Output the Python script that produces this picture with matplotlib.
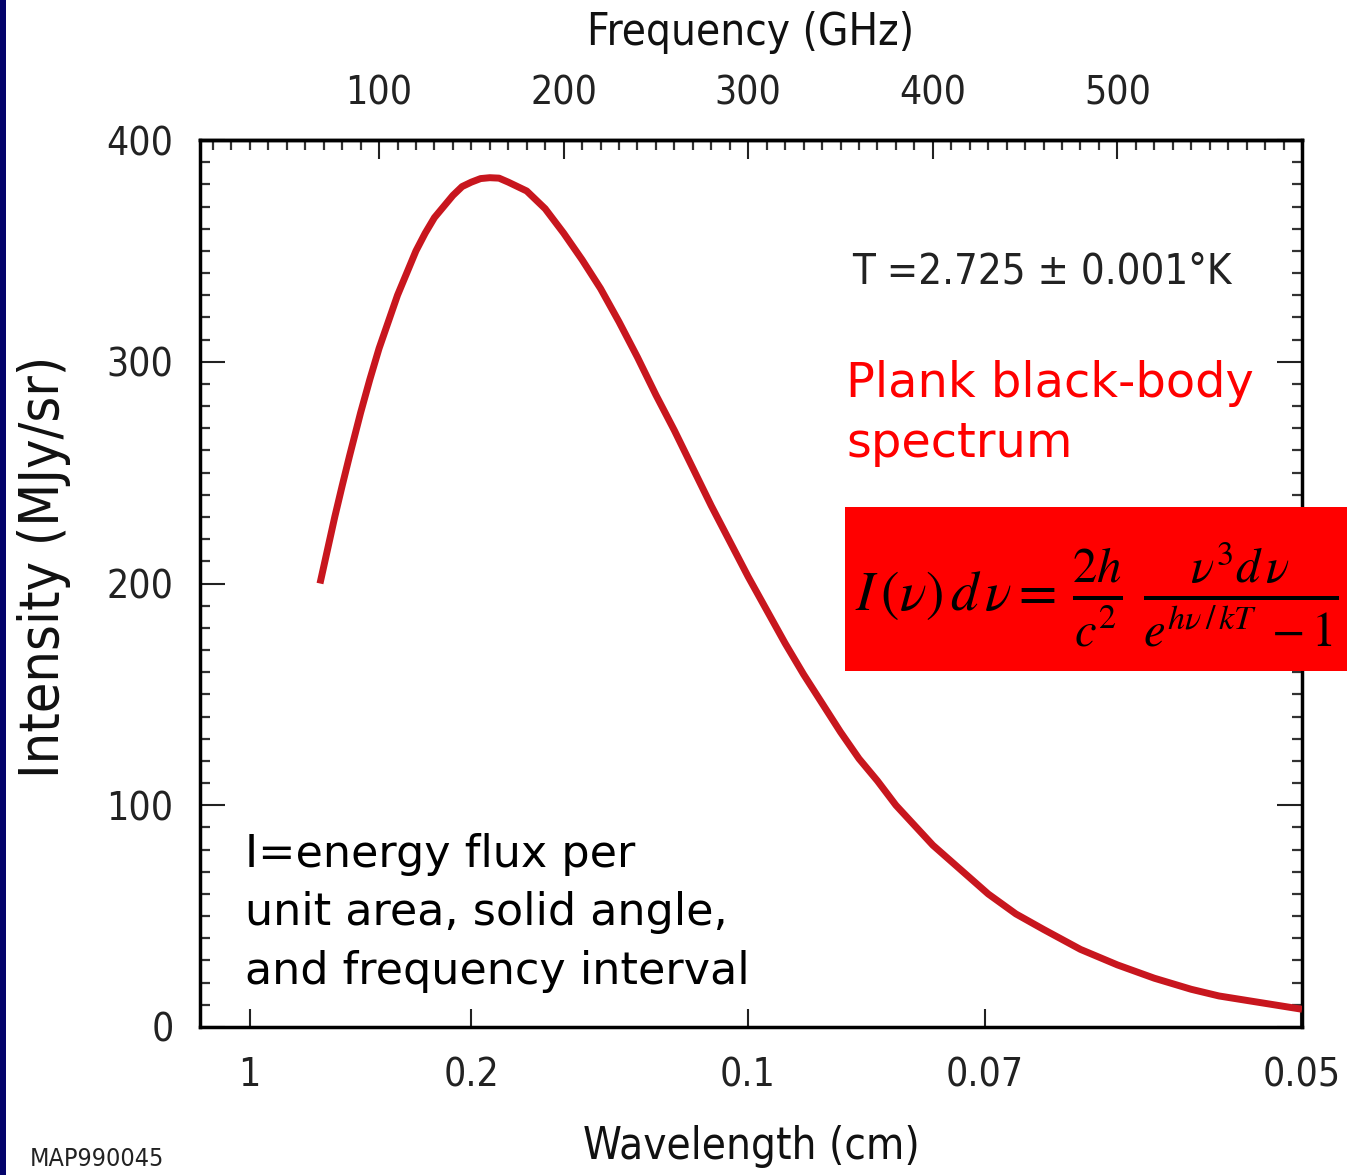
import matplotlib
matplotlib.use("Agg")
import matplotlib.pyplot as plt
from matplotlib.patches import Rectangle
from matplotlib.ticker import MultipleLocator, NullLocator
from matplotlib import font_manager

# ---------------- data ----------------
freq_ghz = [68, 72, 76, 80, 84, 90, 95, 100, 105, 110, 115, 120, 125, 130,
            135, 140, 145, 150, 155, 160, 165, 170, 175, 180, 190, 200, 210,
            220, 230, 240, 250, 260, 270, 280, 290, 300, 310, 320, 330, 340,
            350, 360, 370, 380, 390, 400, 415, 430, 445, 460, 480, 500, 520,
            540, 555, 570, 585, 600]
intensity = [200, 215, 230, 244, 257.5, 277, 292, 306, 318, 330, 340, 350, 358, 365,
             370, 375, 379, 381, 382.6, 383, 382.8, 381, 379, 377, 369, 358, 346,
             333, 318, 302, 285, 269, 252, 235, 219, 203, 188, 173, 159, 146,
             133, 121, 111, 100, 91, 82, 71, 60, 51, 44, 35, 28, 22,
             17, 14, 12, 10, 8]

freq_ticks = [100, 200, 300, 400, 500]
wavelength_ticks = [1, 0.2, 0.1, 0.07, 0.05]
wavelength_labels = ["1", "0.2", "0.1", "0.07", "0.05"]
y_ticks = [0, 100, 200, 300, 400]

C_CM_GHZ = 29.9792458  # speed of light, cm * GHz

# ---------------- fonts ----------------
have_cond = any(f.name == "DejaVu Sans" and str(f.stretch) in ("condensed", "semi-condensed")
                for f in font_manager.fontManager.ttflist)
if have_cond:
    AX_FONT = dict(family="DejaVu Sans", stretch="condensed")
    TICK_FS, LABEL_FS, YLABEL_FS, T_FS = 28, 31.5, 40, 30
else:
    AX_FONT = dict(family="DejaVu Sans")
    TICK_FS, LABEL_FS, YLABEL_FS, T_FS = 25, 28, 36, 27

plt.rcParams["mathtext.fontset"] = "stix"

W, H = 1347, 1175
fig = plt.figure(figsize=(W / 100, H / 100), dpi=100)
fig.patch.set_facecolor("white")

def fx(px):
    return px / W

def fy(py):
    return 1 - py / H

ax = fig.add_axes([fx(200), fy(1027), fx(1302) - fx(200), fy(140) - fy(1027)])
ax.plot(freq_ghz, intensity, color="#c8161e", lw=5, solid_joinstyle="round",
        solid_capstyle="butt", zorder=3)
ax.set_xlim(3, 600)
ax.set_ylim(0, 400)

for s in ax.spines.values():
    s.set_linewidth(2.5)
    s.set_color("black")

# bottom: wavelength ticks
ax.set_xticks([C_CM_GHZ / w for w in wavelength_ticks])
ax.set_xticklabels(wavelength_labels, fontsize=TICK_FS, color="#111111", **AX_FONT)
ax.xaxis.set_minor_locator(NullLocator())
ax.tick_params(axis="x", which="major", direction="in", length=13, width=1.5,
               pad=21, colors="#222222")

# y ticks
ax.set_yticks(y_ticks)
ax.set_yticklabels([str(v) for v in y_ticks], fontsize=TICK_FS, color="#111111", **AX_FONT)
ax.yaxis.set_minor_locator(MultipleLocator(10))
ax.tick_params(axis="y", which="major", direction="in", length=18, width=1.5,
               pad=19, right=True, colors="#222222")
ax.tick_params(axis="y", which="minor", direction="in", length=7, width=1.6,
               right=True, colors="#333333")

# top: frequency ticks
sec = ax.secondary_xaxis("top")
sec.set_xticks(freq_ticks)
sec.set_xticklabels([str(v) for v in freq_ticks], fontsize=TICK_FS, color="#111111", **AX_FONT)
sec.xaxis.set_minor_locator(MultipleLocator(10))
sec.tick_params(axis="x", which="major", direction="in", length=14, width=1.5,
                pad=20, colors="#222222")
sec.tick_params(axis="x", which="minor", direction="in", length=7, width=1.6,
                colors="#333333")
sec.spines["top"].set_linewidth(2.5)

# axis titles
fig.text(fx(751), fy(32), "Frequency (GHz)", ha="center", va="center",
         fontsize=LABEL_FS, color="#111111", **AX_FONT)
fig.text(fx(751), fy(1147), "Wavelength (cm)", ha="center", va="center",
         fontsize=LABEL_FS, color="#111111", **AX_FONT)
fig.text(fx(44), fy(567), "Intensity (MJy/sr)", ha="center", va="center",
         rotation=90, fontsize=YLABEL_FS, color="#111111", **AX_FONT)

# annotations
fig.text(fx(852), fy(283), "T =2.725 \u00b1 0.001\u00b0K", ha="left", va="baseline",
         fontsize=T_FS, color="#222222", **AX_FONT)
fig.text(fx(846), fy(397), "Plank black-body", ha="left", va="baseline",
         fontsize=34.5, color="#ff0000", family="DejaVu Sans")
fig.text(fx(846), fy(457), "spectrum", ha="left", va="baseline",
         fontsize=34.5, color="#ff0000", family="DejaVu Sans")

for txt, base in [("I=energy flux per", 867), ("unit area, solid angle,", 925),
                  ("and frequency interval", 984)]:
    fig.text(fx(245), fy(base), txt, ha="left", va="baseline", fontsize=32,
             color="black", family="DejaVu Sans")

fig.text(fx(30), fy(1166), "MAP990045", ha="left", va="baseline", fontsize=18,
         color="#222222", **AX_FONT)

# red formula box
box = Rectangle((fx(845), fy(671)), 1.0, fy(507) - fy(671), transform=fig.transFigure,
                facecolor="#ff0000", edgecolor="none", zorder=10)
fig.add_artist(box)
fig.text(fx(855), fy(610), r"$I\,(\nu)\,d\,\nu =$",
         ha="left", va="baseline", fontsize=40, color="black", zorder=11)
fig.text(fx(1072), fy(610),
         r"$\frac{2h}{c^2}\;\frac{\nu^3 d\,\nu}{e^{h\nu\,/\,kT}\;-1}$",
         ha="left", va="baseline", fontsize=50, color="black", zorder=11)

# left navy slide border
fig.add_artist(Rectangle((0, 0), fx(6), 1, transform=fig.transFigure,
                         facecolor="#03036b", edgecolor="none", zorder=12))

fig.savefig("out.png", dpi=100)
